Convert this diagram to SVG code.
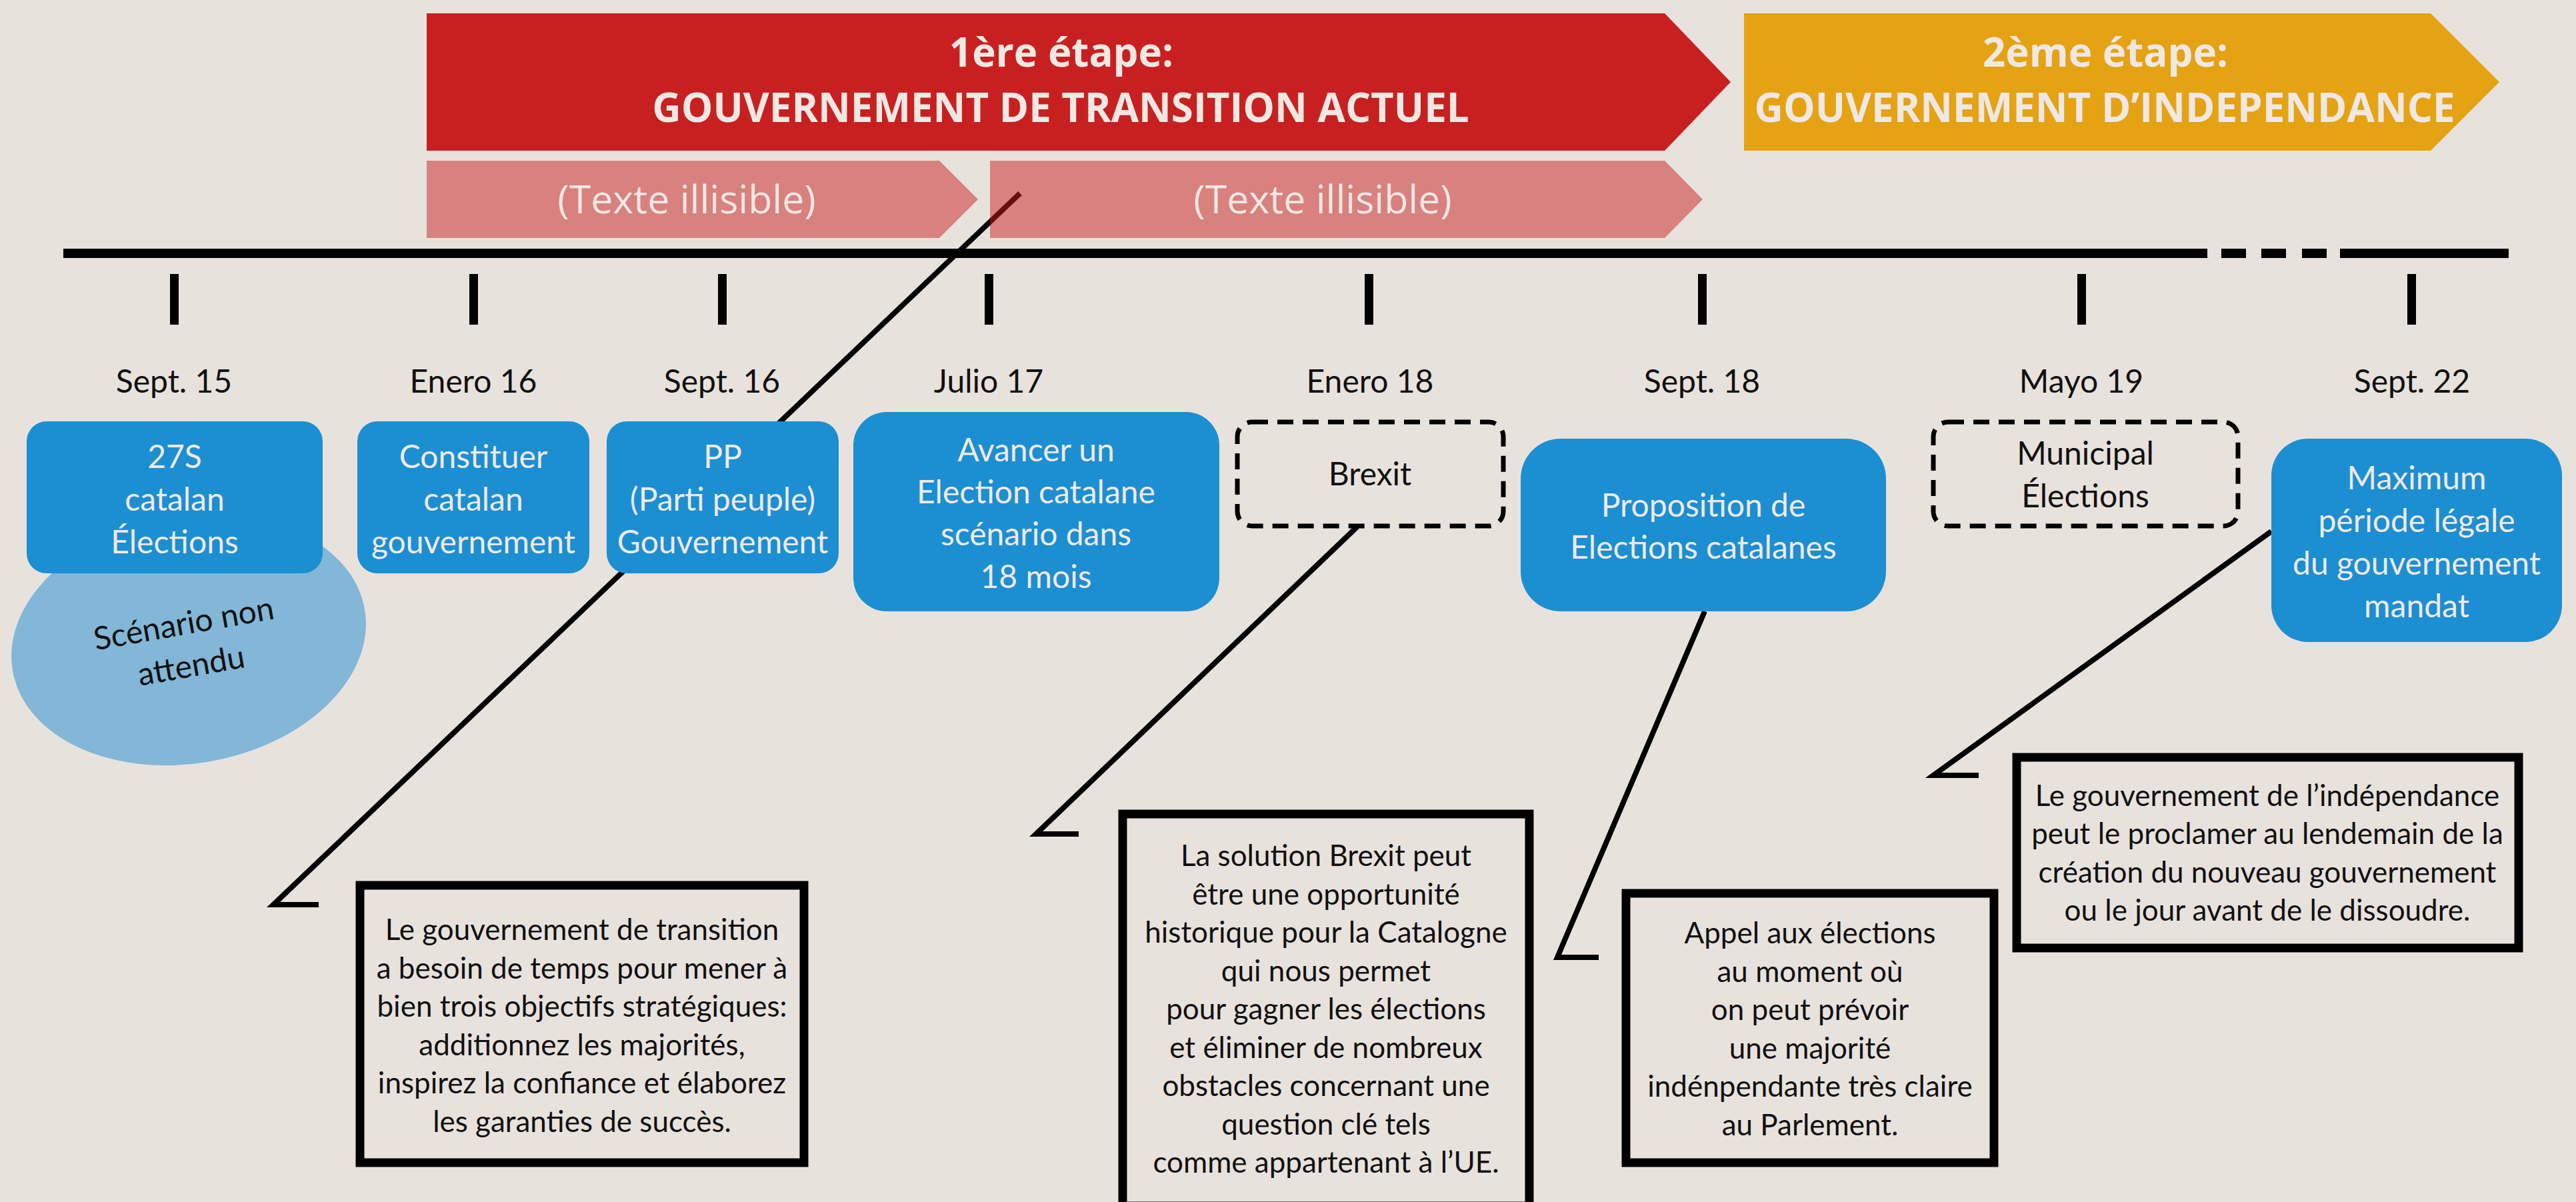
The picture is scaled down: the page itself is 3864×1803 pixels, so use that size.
<svg xmlns="http://www.w3.org/2000/svg" width="3864" height="1803" viewBox="0 0 3864 1803">
<style>
.hd{font-family:"Open Sans","Liberation Sans",sans-serif;font-weight:700;font-size:60px;fill:#efe8e3;text-anchor:middle}
.ill{font-family:"Open Sans","Liberation Sans",sans-serif;font-weight:400;font-size:59px;fill:#f1e7e3;text-anchor:middle}
.dt{font-family:Lato,"Liberation Sans",sans-serif;font-size:48px;fill:#111;text-anchor:middle}
.bx{font-family:Lato,"Liberation Sans",sans-serif;font-size:48px;fill:#f0e9e4;text-anchor:middle}
.bk{font-family:Lato,"Liberation Sans",sans-serif;font-size:48px;fill:#111;text-anchor:middle}
.co{font-family:Lato,"Liberation Sans",sans-serif;font-size:44px;fill:#111;text-anchor:middle}
.blue{fill:#1c8fd2}
.dash{fill:none;stroke:#000;stroke-width:7;stroke-dasharray:24 14}
.cbox{fill:none;stroke:#000;stroke-width:13}
.conn{fill:none;stroke:#000;stroke-width:8;stroke-linejoin:miter;stroke-miterlimit:10}
.tick{fill:#000}
</style>
<rect x="0" y="0" width="3864" height="1803" fill="#e8e2dd"/>

<g id="connectors">
<polyline class="conn" points="1530,290 410,1357 478,1357"/>
<polyline class="conn" points="2036,790 1554,1251 1618,1251"/>
<polyline class="conn" points="2557,917 2336,1436 2398,1436"/>
<polyline class="conn" points="3407,797 2900,1163 2968,1163"/>
</g>

<g id="stage1">
<path d="M640,20 H2497 L2596,123 L2497,226 H640 Z" fill="#c82020"/>
<text class="hd" x="1592" y="100">1ère étape:</text>
<text class="hd" x="1591" y="183">GOUVERNEMENT DE TRANSITION ACTUEL</text>
</g>
<g id="stage2">
<path d="M2616,20 H3646 L3749,123 L3646,226 H2616 Z" fill="#e5a213"/>
<text class="hd" x="3158" y="100">2ème étape:</text>
<text class="hd" x="3157" y="183">GOUVERNEMENT D’INDEPENDANCE</text>
</g>
<g id="phase1">
<path d="M640,241 H1409 L1467,299 L1409,357 H640 Z" fill="#c82020" fill-opacity="0.5"/>
<text class="ill" x="1030" y="320">(Texte illisible)</text>
</g>
<g id="phase2">
<path d="M1485,241 H2497 L2554,299 L2497,357 H1485 Z" fill="#c82020" fill-opacity="0.5"/>
<text class="ill" x="1984" y="320">(Texte illisible)</text>
</g>

<g id="timeline">
<rect x="95" y="373" width="3216" height="14" fill="#000"/>
<rect x="3332" y="373" width="37" height="14" fill="#000"/>
<rect x="3392" y="373" width="37" height="14" fill="#000"/>
<rect x="3453" y="373" width="37" height="14" fill="#000"/>
<rect x="3510" y="373" width="253" height="14" fill="#000"/>
<rect class="tick" x="255" y="411" width="13" height="76"/>
<rect class="tick" x="704" y="411" width="13" height="76"/>
<rect class="tick" x="1077" y="411" width="13" height="76"/>
<rect class="tick" x="1477" y="411" width="13" height="76"/>
<rect class="tick" x="2047" y="411" width="13" height="76"/>
<rect class="tick" x="2547" y="411" width="13" height="76"/>
<rect class="tick" x="3116" y="411" width="13" height="76"/>
<rect class="tick" x="3611" y="411" width="13" height="76"/>
<text class="dt" x="261" y="589">Sept. 15</text>
<text class="dt" x="710" y="589">Enero 16</text>
<text class="dt" x="1083" y="589">Sept. 16</text>
<text class="dt" x="1483" y="589">Julio 17</text>
<text class="dt" x="2055" y="589">Enero 18</text>
<text class="dt" x="2553" y="589">Sept. 18</text>
<text class="dt" x="3122" y="589">Mayo 19</text>
<text class="dt" x="3618" y="589">Sept. 22</text>
</g>

<g id="scenario">
<g transform="rotate(-10 283 960)">
<ellipse cx="283" cy="960" rx="268" ry="185" fill="#82b7d8"/>
<text class="bk" x="280" y="951">Scénario non</text>
<text class="bk" x="280" y="1015">attendu</text>
</g>
</g>

<g id="n27s">
<rect class="blue" x="40" y="632" width="444" height="228" rx="30"/>
<text class="bx" x="262" y="702">27S</text>
<text class="bx" x="262" y="766">catalan</text>
<text class="bx" x="262" y="830">Élections</text>
</g>
<g id="nconstituer">
<rect class="blue" x="536" y="632" width="348" height="228" rx="30"/>
<text class="bx" x="710" y="702">Constituer</text>
<text class="bx" x="710" y="766">catalan</text>
<text class="bx" x="710" y="830">gouvernement</text>
</g>
<g id="npp">
<rect class="blue" x="910" y="632" width="348" height="228" rx="30"/>
<text class="bx" x="1084" y="702">PP</text>
<text class="bx" x="1084" y="766">(Parti peuple)</text>
<text class="bx" x="1084" y="830">Gouvernement</text>
</g>
<g id="navancer">
<rect class="blue" x="1280" y="618" width="549" height="299" rx="50"/>
<text class="bx" x="1554" y="692">Avancer un</text>
<text class="bx" x="1554" y="755">Election catalane</text>
<text class="bx" x="1554" y="818">scénario dans</text>
<text class="bx" x="1554" y="882">18 mois</text>
</g>
<g id="nbrexit">
<rect class="dash" x="1856" y="633" width="399" height="156" rx="22"/>
<text class="bk" x="2055" y="728">Brexit</text>
</g>
<g id="nproposition">
<rect class="blue" x="2281" y="658" width="548" height="259" rx="60"/>
<text class="bx" x="2555" y="775">Proposition de</text>
<text class="bx" x="2555" y="838">Elections catalanes</text>
</g>
<g id="nmunicipal">
<rect class="dash" x="2900" y="633" width="457" height="156" rx="22"/>
<text class="bk" x="3128" y="697">Municipal</text>
<text class="bk" x="3128" y="761">Élections</text>
</g>
<g id="nmaximum">
<rect class="blue" x="3407" y="658" width="436" height="305" rx="55"/>
<text class="bx" x="3625" y="734">Maximum</text>
<text class="bx" x="3625" y="798">période légale</text>
<text class="bx" x="3625" y="862">du gouvernement</text>
<text class="bx" x="3625" y="926">mandat</text>
</g>

<g id="note1">
<rect class="cbox" x="540" y="1328" width="666" height="416"/>
<text class="co" x="873" y="1410">Le gouvernement de transition</text>
<text class="co" x="873" y="1468">a besoin de temps pour mener à</text>
<text class="co" x="873" y="1525">bien trois objectifs stratégiques:</text>
<text class="co" x="873" y="1583">additionnez les majorités,</text>
<text class="co" x="873" y="1640">inspirez la confiance et élaborez</text>
<text class="co" x="873" y="1698">les garanties de succès.</text>
</g>
<g id="note2">
<rect class="cbox" x="1684" y="1221" width="610" height="588"/>
<text class="co" x="1989" y="1299">La solution Brexit peut</text>
<text class="co" x="1989" y="1357">être une opportunité</text>
<text class="co" x="1989" y="1414">historique pour la Catalogne</text>
<text class="co" x="1989" y="1472">qui nous permet</text>
<text class="co" x="1989" y="1529">pour gagner les élections</text>
<text class="co" x="1989" y="1587">et éliminer de nombreux</text>
<text class="co" x="1989" y="1644">obstacles concernant une</text>
<text class="co" x="1989" y="1702">question clé tels</text>
<text class="co" x="1989" y="1759">comme appartenant à l’UE.</text>
</g>
<g id="note3">
<rect class="cbox" x="2439" y="1340" width="552" height="404"/>
<text class="co" x="2715" y="1415">Appel aux élections</text>
<text class="co" x="2715" y="1473">au moment où</text>
<text class="co" x="2715" y="1530">on peut prévoir</text>
<text class="co" x="2715" y="1588">une majorité</text>
<text class="co" x="2715" y="1645">indénpendante très claire</text>
<text class="co" x="2715" y="1703">au Parlement.</text>
</g>
<g id="note4">
<rect class="cbox" x="3025" y="1136" width="753" height="286"/>
<text class="co" x="3401" y="1209">Le gouvernement de l’indépendance</text>
<text class="co" x="3401" y="1266">peut le proclamer au lendemain de la</text>
<text class="co" x="3401" y="1324">création du nouveau gouvernement</text>
<text class="co" x="3401" y="1381">ou le jour avant de le dissoudre.</text>
</g>
</svg>
